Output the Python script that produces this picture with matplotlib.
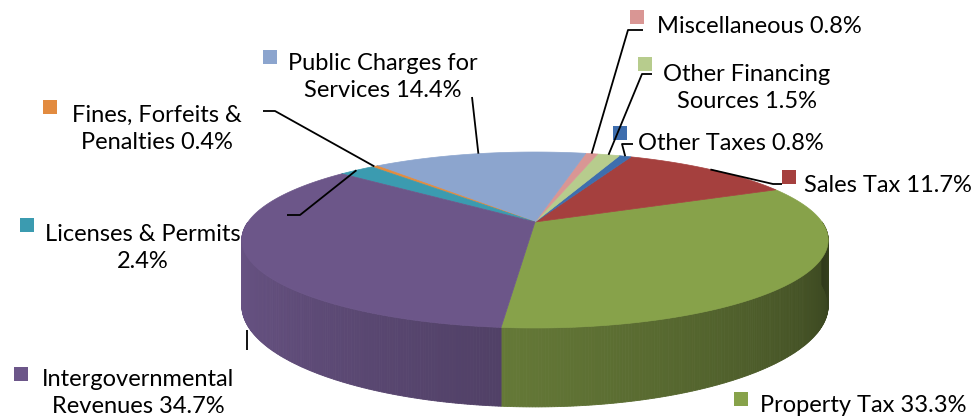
import numpy as np
import matplotlib.pyplot as plt
from matplotlib.patches import Polygon, Rectangle
from matplotlib.colors import to_rgb

# ---- revenue shares, counterclockwise from the front seam ----
names = [
    "Property Tax",
    "Sales Tax",
    "Other Taxes",
    "Other Financing\nSources",
    "Miscellaneous",
    "Public Charges for\nServices",
    "Fines, Forfeits &\nPenalties",
    "Licenses & Permits\n",
    "Intergovernmental\nRevenues",
]
shares = [33.3, 11.7, 0.8, 1.5, 0.8, 14.4, 0.4, 2.4, 34.7]
colors = [
    "#87a24a", "#a5403e", "#3e6eae", "#b7cc8d", "#d99694",
    "#8ca5ce", "#e28b3f", "#3b9bb0", "#6c5689",
]

# ---- 3D pie geometry (pixel space) ----
CX, CY = 535, 222          # apex of the top face
A, B, K = 287, 84.3, 0.2045  # half width, half depth, perspective
DEPTH = 62.8
START = 264.6


def rim(theta, drop=0.0):
    t = np.radians(theta)
    u, v = np.cos(t), -np.sin(t)
    d = 1 - K * v
    return CX + A * u / d, CY + (B * v + drop) / d


def shade(theta):
    t = (theta - 180) / 180
    return 0.98 - 0.62 * t ** 1.3


fig = plt.figure(figsize=(9.76, 4.17), dpi=100)
ax = fig.add_axes([0, 0, 1, 1])
ax.set_xlim(0, 976)
ax.set_ylim(417, 0)
ax.axis("off")

bounds = START + 3.6 * np.concatenate([[0], np.cumsum(shares)])

# side wall, front half only
for i, c in enumerate(colors):
    th = np.arange(bounds[i], bounds[i + 1], 0.5)
    th = np.append(th, bounds[i + 1])
    base = np.array(to_rgb(c))
    for a, b in zip(th[:-1], th[1:]):
        m = ((a + b) / 2) % 360
        if m < 180:
            continue
        quad = [rim(a), rim(b), rim(b, DEPTH), rim(a, DEPTH)]
        col = np.clip(base * shade(m), 0, 1)
        ax.add_patch(Polygon(quad, closed=True, facecolor=col,
                             edgecolor=col, lw=0.6))

# top face
for i, c in enumerate(colors):
    th = np.append(np.arange(bounds[i], bounds[i + 1], 0.5), bounds[i + 1])
    pts = [(CX, CY)] + [rim(t) for t in th]
    ax.add_patch(Polygon(pts, closed=True, facecolor=c, edgecolor=c, lw=0.5))

# ---- labels: marker centre, text x, last baseline, leader elbows, drop ----
layout = [
    ((741, 399), 760, 412, [], None),
    ((789, 177), 804, 192, [(773, 184), (782, 184)], 0.0),
    ((620, 133), 638, 150, [(622, 144), (633, 144)], 0.0),
    ((645, 64), 663, 108, [(642, 74), (652, 74)], 0.0),
    ((637, 17), 657, 33, [(628, 30), (643, 30)], 0.0),
    ((270, 57), 288, 97, [(472, 97)], 0.0),
    ((50, 107), 72, 149, [(275, 111), (263, 111)], 0.0),
    ((27, 225), 45, 268, [(300, 215), (287, 215)], 0.0),
    ((21, 374), 42, 413, [(247, 350)], DEPTH + 5),
]

for i, (mk, tx, ty, elbows, drop) in enumerate(layout):
    sep = "" if names[i].endswith("\n") else " "
    label = f"{names[i]}{sep}{shares[i]:.1f}%"
    ax.add_patch(Rectangle((mk[0] - 7, mk[1] - 7), 14, 14,
                           facecolor=colors[i], edgecolor="none"))
    ax.text(tx, ty, label, ha="left", va="baseline", multialignment="center",
            fontsize=17, family="Lato", color="black", linespacing=1.36)
    if drop is not None:
        mid = (bounds[i] + bounds[i + 1]) / 2
        x0, y0 = rim(mid, drop)
        xs = [x0] + [p[0] for p in elbows]
        ys = [y0] + [p[1] for p in elbows]
        if drop > 0:
            xs = [xs[1], xs[1]]
        ax.plot(xs, ys, color="black", lw=1.3, solid_capstyle="butt")

fig.savefig("out.png", dpi=100)
